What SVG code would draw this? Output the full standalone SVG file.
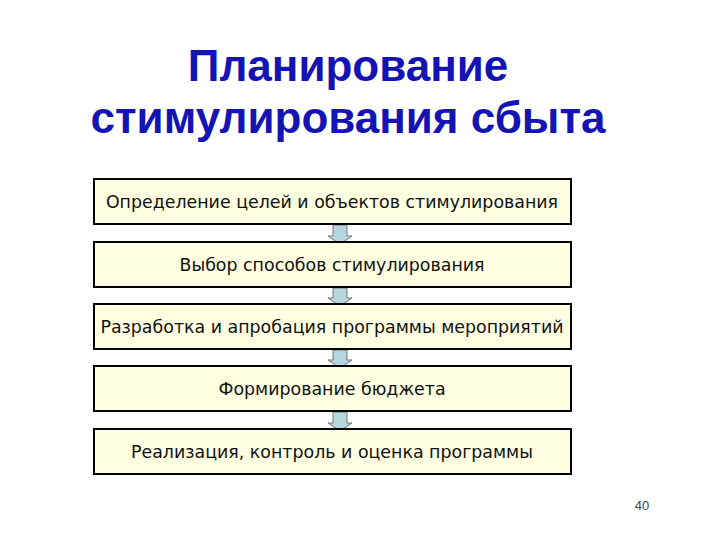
<svg xmlns="http://www.w3.org/2000/svg" width="720" height="540" viewBox="0 0 720 540">
<style>
.title{font-family:"Liberation Sans",Arial,sans-serif;font-weight:bold;font-size:44px;fill:#1414b4;text-anchor:middle}
.box{fill:#ffffe1;stroke:#000;stroke-width:2}
.lbl{font-family:"DejaVu Sans",Verdana,sans-serif;font-size:17.4px;fill:#111;text-anchor:middle}
.arr{fill:#b4d6dc;stroke:#777;stroke-width:1}
.num{font-family:"Liberation Sans",Arial,sans-serif;font-size:13px;fill:#444;text-anchor:middle}
</style>
<rect width="720" height="540" fill="#fff"/>
<text class="title" x="348" y="81">Планирование</text>
<text class="title" x="348" y="133">стимулирования сбыта</text>
<g id="connectors">
<path class="arr" d="M333,225 H347 V236 H352 L340,244 L328,236 H333 Z"/>
<path class="arr" d="M333,288 H347 V298 H352 L340,306 L328,298 H333 Z"/>
<path class="arr" d="M333,350 H347 V360 H352 L340,368 L328,360 H333 Z"/>
<path class="arr" d="M333,412 H347 V423 H352 L340,431 L328,423 H333 Z"/>
</g>
<g id="n1"><rect class="box" x="94" y="179" width="477" height="45"/><text class="lbl" x="332" y="208">Определение целей и объектов стимулирования</text></g>
<g id="n2"><rect class="box" x="94" y="242" width="477" height="45"/><text class="lbl" x="332" y="271">Выбор способов стимулирования</text></g>
<g id="n3"><rect class="box" x="94" y="304" width="477" height="45"/><text class="lbl" x="332" y="333">Разработка и апробация программы мероприятий</text></g>
<g id="n4"><rect class="box" x="94" y="366" width="477" height="45"/><text class="lbl" x="332" y="395">Формирование бюджета</text></g>
<g id="n5"><rect class="box" x="94" y="429" width="477" height="45"/><text class="lbl" x="332" y="458">Реализация, контроль и оценка программы</text></g>
<text class="num" x="642" y="510">40</text>
</svg>
